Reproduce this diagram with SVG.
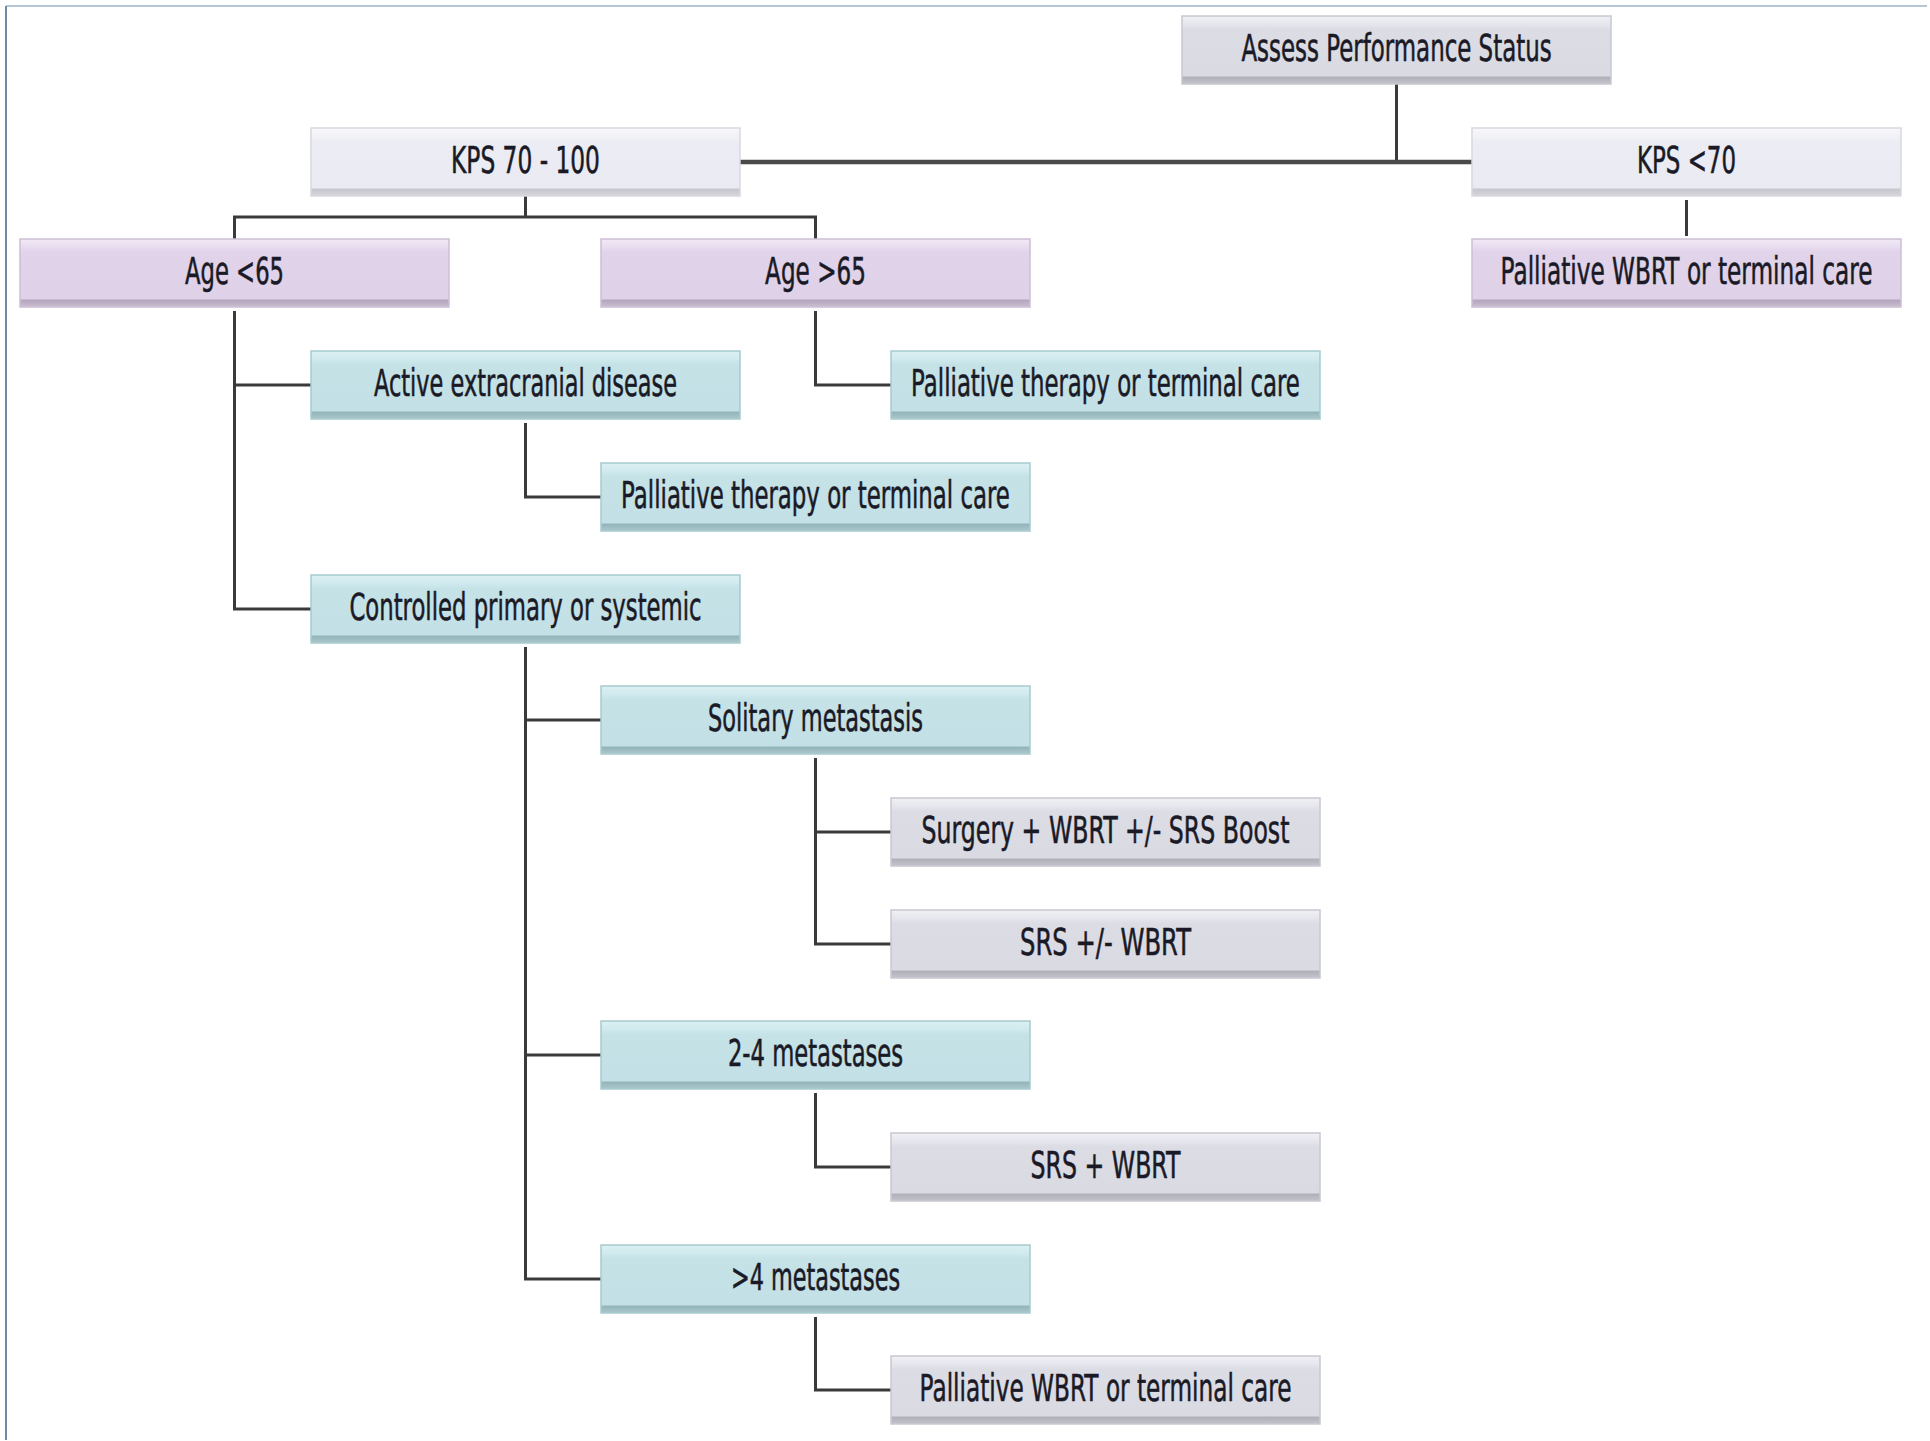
<svg xmlns="http://www.w3.org/2000/svg" width="1930" height="1441" viewBox="0 0 1930 1441">
<defs>
<linearGradient id="gGray" x1="0" y1="0" x2="0" y2="1">
<stop offset="0" stop-color="#f0f0f5"/><stop offset="0.12" stop-color="#e6e6ee"/><stop offset="0.2" stop-color="#dcdce5"/><stop offset="0.88" stop-color="#dadae3"/><stop offset="0.9" stop-color="#b0b0b9"/><stop offset="1" stop-color="#c4c4cc"/>
</linearGradient>
<linearGradient id="gLight" x1="0" y1="0" x2="0" y2="1">
<stop offset="0" stop-color="#f8f8fb"/><stop offset="0.12" stop-color="#f2f2f7"/><stop offset="0.2" stop-color="#ececf4"/><stop offset="0.88" stop-color="#eaeaf2"/><stop offset="0.9" stop-color="#c6c6ce"/><stop offset="1" stop-color="#d6d6dc"/>
</linearGradient>
<linearGradient id="gPurple" x1="0" y1="0" x2="0" y2="1">
<stop offset="0" stop-color="#f2eaf6"/><stop offset="0.12" stop-color="#e8dcef"/><stop offset="0.2" stop-color="#e1d3ea"/><stop offset="0.88" stop-color="#dfd1e8"/><stop offset="0.9" stop-color="#b4a6bc"/><stop offset="1" stop-color="#cabed0"/>
</linearGradient>
<linearGradient id="gTeal" x1="0" y1="0" x2="0" y2="1">
<stop offset="0" stop-color="#dcf0f2"/><stop offset="0.12" stop-color="#d0eaee"/><stop offset="0.2" stop-color="#c5e2e7"/><stop offset="0.88" stop-color="#c2e0e5"/><stop offset="0.9" stop-color="#92b5ba"/><stop offset="1" stop-color="#acc8cc"/>
</linearGradient>
</defs>
<style>
.box{stroke-width:1.5}
.gray{fill:url(#gGray);stroke:#c8c8d0}
.light{fill:url(#gLight);stroke:#d8d8e0}
.purple{fill:url(#gPurple);stroke:#cdbfd6}
.teal{fill:url(#gTeal);stroke:#a8cacf}
.lbl{font-family:"DejaVu Sans","Liberation Sans",sans-serif;font-size:37px;fill:#1a1a26;stroke:#1a1a26;stroke-width:0.6;text-anchor:middle}
.conn{fill:none;stroke:#3a3a3a;stroke-width:3}
.main{fill:none;stroke:#4a4a4a;stroke-width:4.5}
.frame{fill:none;stroke-width:2}
</style>
<rect x="0" y="0" width="1930" height="1441" fill="#ffffff"/>
<line class="frame" x1="6" y1="6" x2="1927" y2="6" stroke="#b4c6d6"/>
<line class="frame" x1="6" y1="6" x2="6" y2="1440" stroke="#6f8aa6"/>

<g id="connectors">
<line class="conn" x1="1396.5" y1="84" x2="1396.5" y2="162"/>
<line class="main" x1="740" y1="162" x2="1472" y2="162"/>
<line class="conn" x1="1686.5" y1="200" x2="1686.5" y2="236"/>
<polyline class="conn" points="525.5,196 525.5,217"/>
<polyline class="conn" points="234.5,239 234.5,217 815.5,217 815.5,239"/>
<polyline class="conn" points="234.5,311 234.5,609 311,609"/>
<line class="conn" x1="234.5" y1="385" x2="311" y2="385"/>
<polyline class="conn" points="815.5,311 815.5,385 891,385"/>
<polyline class="conn" points="525.5,423 525.5,497 601,497"/>
<polyline class="conn" points="525.5,647 525.5,1279 601,1279"/>
<line class="conn" x1="525.5" y1="720" x2="601" y2="720"/>
<line class="conn" x1="525.5" y1="1055" x2="601" y2="1055"/>
<polyline class="conn" points="815.5,758 815.5,944 891,944"/>
<line class="conn" x1="815.5" y1="832" x2="891" y2="832"/>
<polyline class="conn" points="815.5,1093 815.5,1167 891,1167"/>
<polyline class="conn" points="815.5,1317 815.5,1390 891,1390"/>
</g>

<g id="assess"><rect class="box gray" x="1182" y="16" width="429" height="68"/><text class="lbl" transform="translate(1396.5,61) scale(0.6,1)" textLength="517" lengthAdjust="spacingAndGlyphs">Assess Performance Status</text></g>
<g id="kps70100"><rect class="box light" x="311" y="128" width="429" height="68"/><text class="lbl" transform="translate(525.5,173) scale(0.6,1)" textLength="248" lengthAdjust="spacingAndGlyphs">KPS 70 - 100</text></g>
<g id="kpslt70"><rect class="box light" x="1472" y="128" width="429" height="68"/><text class="lbl" transform="translate(1686.5,173) scale(0.6,1)" textLength="165" lengthAdjust="spacingAndGlyphs">KPS &lt;70</text></g>
<g id="palliativeWbrtTop"><rect class="box purple" x="1472" y="239" width="429" height="68"/><text class="lbl" transform="translate(1686.5,284) scale(0.6,1)" textLength="620" lengthAdjust="spacingAndGlyphs">Palliative WBRT or terminal care</text></g>
<g id="ageLt65"><rect class="box purple" x="20" y="239" width="429" height="68"/><text class="lbl" transform="translate(234.5,284) scale(0.6,1)" textLength="165" lengthAdjust="spacingAndGlyphs">Age &lt;65</text></g>
<g id="ageGt65"><rect class="box purple" x="601" y="239" width="429" height="68"/><text class="lbl" transform="translate(815.5,284) scale(0.6,1)" textLength="168" lengthAdjust="spacingAndGlyphs">Age &gt;65</text></g>
<g id="activeExtracranial"><rect class="box teal" x="311" y="351" width="429" height="68"/><text class="lbl" transform="translate(525.5,396) scale(0.6,1)" textLength="505" lengthAdjust="spacingAndGlyphs">Active extracranial disease</text></g>
<g id="palliativeTherapyAge"><rect class="box teal" x="891" y="351" width="429" height="68"/><text class="lbl" transform="translate(1105.5,396) scale(0.6,1)" textLength="648" lengthAdjust="spacingAndGlyphs">Palliative therapy or terminal care</text></g>
<g id="palliativeTherapyActive"><rect class="box teal" x="601" y="463" width="429" height="68"/><text class="lbl" transform="translate(815.5,508) scale(0.6,1)" textLength="648" lengthAdjust="spacingAndGlyphs">Palliative therapy or terminal care</text></g>
<g id="controlledPrimary"><rect class="box teal" x="311" y="575" width="429" height="68"/><text class="lbl" transform="translate(525.5,620) scale(0.6,1)" textLength="587" lengthAdjust="spacingAndGlyphs">Controlled primary or systemic</text></g>
<g id="solitary"><rect class="box teal" x="601" y="686" width="429" height="68"/><text class="lbl" transform="translate(815.5,731) scale(0.6,1)" textLength="358" lengthAdjust="spacingAndGlyphs">Solitary metastasis</text></g>
<g id="surgery"><rect class="box gray" x="891" y="798" width="429" height="68"/><text class="lbl" transform="translate(1105.5,843) scale(0.6,1)" textLength="613" lengthAdjust="spacingAndGlyphs">Surgery + WBRT +/- SRS Boost</text></g>
<g id="srsPmWbrt"><rect class="box gray" x="891" y="910" width="429" height="68"/><text class="lbl" transform="translate(1105.5,955) scale(0.6,1)" textLength="285" lengthAdjust="spacingAndGlyphs">SRS +/- WBRT</text></g>
<g id="twoFour"><rect class="box teal" x="601" y="1021" width="429" height="68"/><text class="lbl" transform="translate(815.5,1066) scale(0.6,1)" textLength="292" lengthAdjust="spacingAndGlyphs">2-4 metastases</text></g>
<g id="srsWbrt"><rect class="box gray" x="891" y="1133" width="429" height="68"/><text class="lbl" transform="translate(1105.5,1178) scale(0.6,1)" textLength="250" lengthAdjust="spacingAndGlyphs">SRS + WBRT</text></g>
<g id="gtFour"><rect class="box teal" x="601" y="1245" width="429" height="68"/><text class="lbl" transform="translate(815.5,1290) scale(0.6,1)" textLength="282" lengthAdjust="spacingAndGlyphs">&gt;4 metastases</text></g>
<g id="palliativeWbrtBottom"><rect class="box gray" x="891" y="1356" width="429" height="68"/><text class="lbl" transform="translate(1105.5,1401) scale(0.6,1)" textLength="620" lengthAdjust="spacingAndGlyphs">Palliative WBRT or terminal care</text></g>
</svg>
